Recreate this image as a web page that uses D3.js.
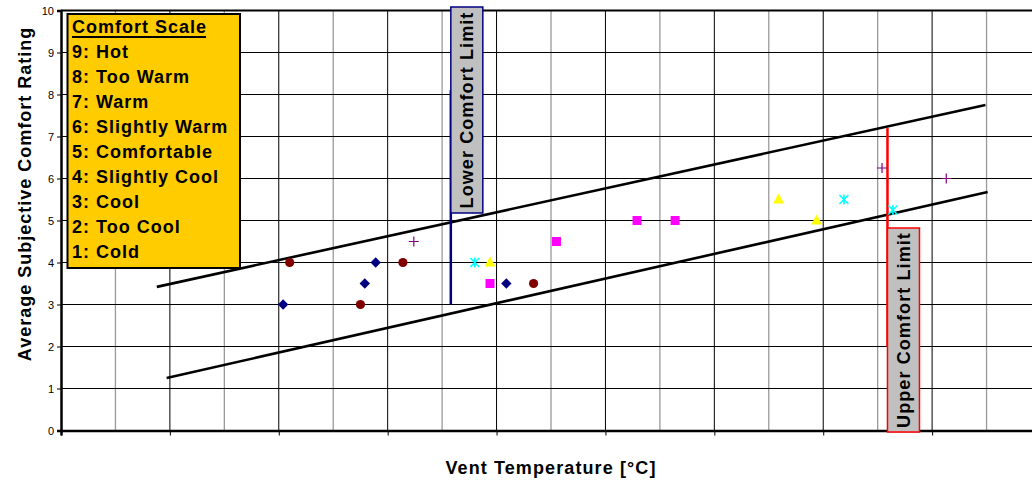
<!DOCTYPE html>
<html><head><meta charset="utf-8">
<script src="https://cdn.jsdelivr.net/npm/d3@7"></script>
<style>body{margin:0;background:#fff}svg{display:block;font-family:Arial,"Liberation Sans",sans-serif}</style>
</head><body><svg id="c" width="1032" height="482"></svg>
<script>
// ---- data ----
const yTicks = [0,1,2,3,4,5,6,7,8,9,10];
const scaleLines = ["9: Hot","8: Too Warm","7: Warm","6: Slightly Warm","5: Comfortable","4: Slightly Cool","3: Cool","2: Too Cool","1: Cold"];
const diamonds  = [[16.04,3],[16.79,3.5],[16.89,4],[18.09,3.5]];
const circles   = [[16.10,4],[16.75,3],[17.14,4],[18.34,3.5]];
const pluses    = [[17.24,4.5],[21.54,6.25],[22.13,6]];
const asterisks = [[17.80,4],[21.19,5.5],[21.64,5.25]];
const triangles = [[17.94,4],[20.59,5.5],[20.94,5]];
const squares   = [[17.94,3.5],[18.55,4.5],[19.29,5],[19.64,5]];
const upperBand = [[14.88,3.42],[22.49,7.75]];
const lowerBand = [[14.97,1.25],[22.51,5.68]];
const lowerLimit = {x:17.58, y0:3, y1:8.1, label:"Lower Comfort Limit"};
const upperLimit = {x:21.59, y0:2, y1:7.2, label:"Upper Comfort Limit"};

// ---- scales ----
const svg = d3.select("#c");
const x = d3.scaleLinear().domain([14,23]).range([61,1041]);
const y = d3.scaleLinear().domain([0,10]).range([430.5,10.5]);

// gridlines
const minor = d3.range(14.5,23,1), major = d3.range(15,23,1);
svg.append("g").selectAll("line").data(minor).join("line")
  .attr("x1",d=>x(d)).attr("x2",d=>x(d)).attr("y1",y(10)).attr("y2",y(0))
  .attr("stroke","#9a9a9a").attr("stroke-width",1.3);
svg.append("g").selectAll("line").data(major).join("line")
  .attr("x1",d=>x(d)).attr("x2",d=>x(d)).attr("y1",y(10)).attr("y2",y(0))
  .attr("stroke","#000").attr("stroke-width",1);
svg.append("g").selectAll("line").data(yTicks.slice(1)).join("line")
  .attr("x1",x(14)).attr("x2",1032).attr("y1",d=>y(d)).attr("y2",d=>y(d))
  .attr("stroke","#000").attr("stroke-width",d=>d===10?2:1);

// axes
const yAxis = svg.append("g").attr("transform",`translate(${x(14)},0)`)
  .call(d3.axisLeft(y).tickValues(yTicks).tickSize(4).tickPadding(3));
yAxis.select(".domain").attr("stroke-width",2.5);
yAxis.selectAll("text").attr("font-size",11).attr("font-family","Arial, Liberation Sans").attr("fill","#000");
const xAxis = svg.append("g").attr("transform",`translate(0,${y(0)})`)
  .call(d3.axisBottom(x).tickValues(d3.range(14,24,1)).tickSize(5).tickFormat(""));
xAxis.select(".domain").attr("stroke-width",2.5);

// trend bands
const line = d3.line().x(d=>x(d[0])).y(d=>y(d[1]));
[upperBand,lowerBand].forEach(b=>svg.append("path").attr("d",line(b))
  .attr("stroke","#000").attr("stroke-width",2.6).attr("fill","none"));

// limit lines
svg.append("line").attr("x1",x(lowerLimit.x)).attr("x2",x(lowerLimit.x))
  .attr("y1",y(lowerLimit.y0)).attr("y2",y(lowerLimit.y1)).attr("stroke","#000080").attr("stroke-width",2.5);
svg.append("line").attr("x1",x(upperLimit.x)).attr("x2",x(upperLimit.x))
  .attr("y1",y(upperLimit.y0)).attr("y2",y(upperLimit.y1)).attr("stroke","#ff0000").attr("stroke-width",2.5);

// markers
const g = svg.append("g");
g.selectAll(".dm").data(diamonds).join("path")
  .attr("d",d=>{const cx=x(d[0]),cy=y(d[1]);return `M${cx},${cy-5.2}L${cx+5.2},${cy}L${cx},${cy+5.2}L${cx-5.2},${cy}Z`;})
  .attr("fill","#000080");
g.selectAll(".ci").data(circles).join("circle")
  .attr("cx",d=>x(d[0])).attr("cy",d=>y(d[1])).attr("r",4.6).attr("fill","#800000");
g.selectAll(".sq").data(squares).join("rect")
  .attr("x",d=>x(d[0])-4.5).attr("y",d=>y(d[1])-4.5).attr("width",9).attr("height",9).attr("fill","#ff00ff");
g.selectAll(".tr").data(triangles).join("path")
  .attr("d",d=>`M${x(d[0])},${y(d[1])-6}L${x(d[0])+5.5},${y(d[1])+4}L${x(d[0])-5.5},${y(d[1])+4}Z`)
  .attr("fill","#ffff00");
g.selectAll(".pl").data(pluses).join("path")
  .attr("d",d=>`M${x(d[0])-5},${y(d[1])}H${x(d[0])+5}M${x(d[0])},${y(d[1])-5}V${y(d[1])+5}`)
  .attr("stroke","#800080").attr("stroke-width",1.2);
g.selectAll(".as").data(asterisks).join("path")
  .attr("d",d=>{const cx=x(d[0]),cy=y(d[1]);return `M${cx-4.5},${cy-4.5}L${cx+4.5},${cy+4.5}M${cx+4.5},${cy-4.5}L${cx-4.5},${cy+4.5}M${cx},${cy-5}V${cy+5}`;})
  .attr("stroke","#00ffff").attr("stroke-width",1.6);

// limit labels
function limitLabel(px, top, bottom, stroke, text){
  svg.append("rect").attr("x",px).attr("y",top).attr("width",32).attr("height",bottom-top)
    .attr("fill","#c0c0c0").attr("stroke",stroke).attr("stroke-width",1.5);
  svg.append("text").attr("transform",`translate(${px+16+6.5},${(top+bottom)/2}) rotate(-90)`)
    .attr("text-anchor","middle").attr("font-weight","bold").attr("font-size",18).attr("letter-spacing",1.1)
    .attr("fill","#000").text(text);
}
limitLabel(x(lowerLimit.x), 7, 213, "#000080", lowerLimit.label);
limitLabel(x(upperLimit.x), 228, 432, "#ff0000", upperLimit.label);

// comfort scale box
svg.append("rect").attr("x",67.5).attr("y",14).attr("width",172.5).attr("height",254)
  .attr("fill","#ffcc00").attr("stroke","#000").attr("stroke-width",2);
const title = svg.append("text").attr("x",72).attr("y",33).attr("font-weight","bold").attr("font-size",18)
  .attr("letter-spacing",1).attr("fill","#000").text("Comfort Scale");
const tw = title.node().getComputedTextLength();
svg.append("line").attr("x1",72).attr("x2",72+tw-1).attr("y1",37).attr("y2",37).attr("stroke","#000").attr("stroke-width",2);
svg.append("g").selectAll("text").data(scaleLines).join("text")
  .attr("x",72).attr("y",(d,i)=>58+25*i).attr("font-weight","bold").attr("font-size",18)
  .attr("letter-spacing",1).attr("fill","#000").text(d=>d);

// axis titles
svg.append("text").attr("transform",`translate(31,194) rotate(-90)`).attr("text-anchor","middle")
  .attr("font-weight","bold").attr("font-size",18).attr("letter-spacing",1).text("Average Subjective Comfort Rating");
svg.append("text").attr("x",551).attr("y",474).attr("text-anchor","middle")
  .attr("font-weight","bold").attr("font-size",18).attr("letter-spacing",1.1).text("Vent Temperature [°C]");
</script></body></html>
